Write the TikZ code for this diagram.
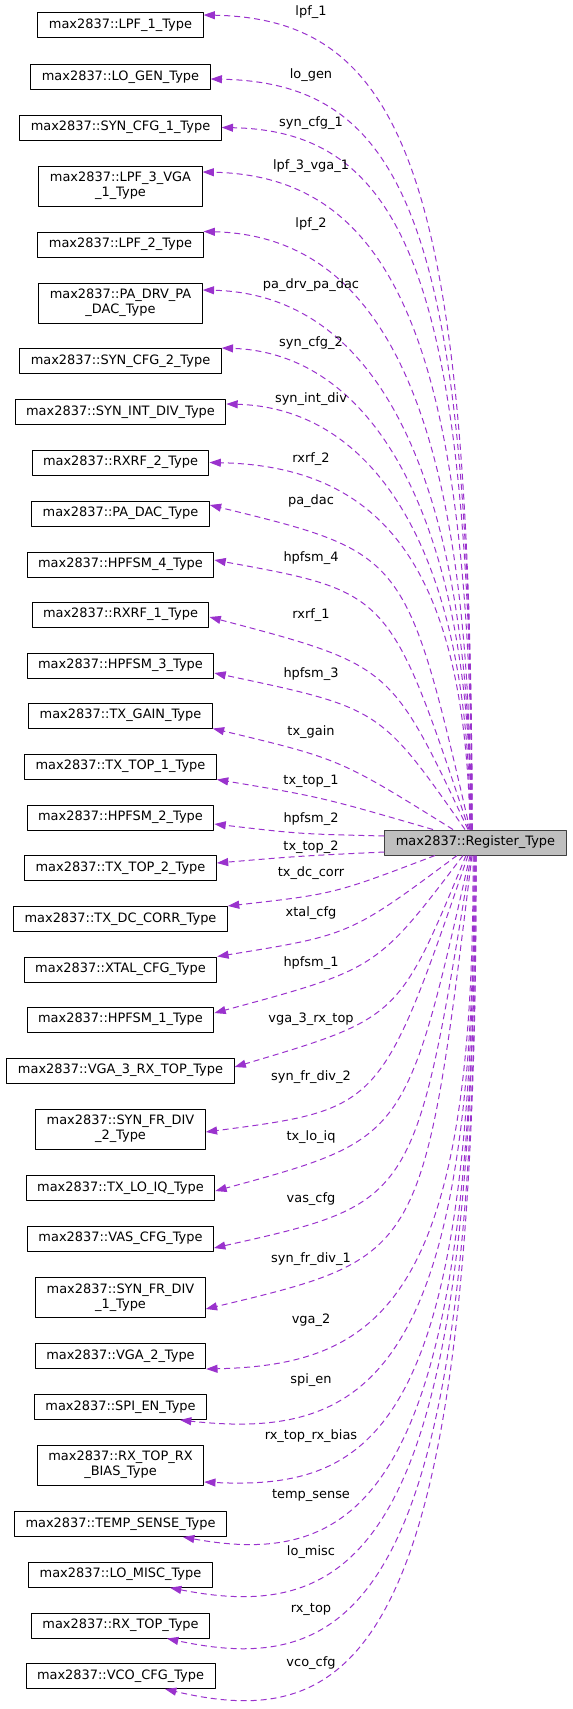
\documentclass[tikz,border=0pt]{standalone}
\usepackage{fontspec}
\setmainfont{DejaVu Sans}
\usetikzlibrary{arrows.meta}
\definecolor{deppurple}{HTML}{9A32CD}
\definecolor{regfill}{HTML}{BFBFBF}
\definecolor{regdraw}{HTML}{404040}

\begin{document}
\begin{tikzpicture}[x=0.75pt, y=-0.75pt, line join=round,
		font=\fontsize{9.7}{11.25}\selectfont,
		classbox/.style={draw=black, line width=0.75pt, inner xsep=8.25pt, inner ysep=0pt, minimum height=18.75pt, align=center},
		twoline/.style={classbox, minimum height=30pt},
		dep/.style={deppurple, line width=0.75pt, dash pattern=on 4.5pt off 3pt, -{Triangle[length=8.5pt,width=6pt]}},
		deplabel/.style={inner sep=0pt}]
			\useasboundingbox (0,0) rectangle (572,1709);
			% the register type on the right
			\node[classbox, fill=regfill, draw=regdraw] (reg) at (475.5,842.5) {max2837::Register\_Type};
			% member types, left column
			\node[classbox] (lpf1) at (120.5,25.5) {max2837::LPF\_1\_Type};
			\node[classbox] (logen) at (120.5,76.8) {max2837::LO\_GEN\_Type};
			\node[classbox] (syncfg1) at (120.5,127.5) {max2837::SYN\_CFG\_1\_Type};
			\node[twoline] (lpf3vga1) at (120.5,186) {max2837::LPF\_3\_VGA\\\_1\_Type};
			\node[classbox] (lpf2) at (120.5,244.5) {max2837::LPF\_2\_Type};
			\node[twoline] (padrv) at (120.5,303) {max2837::PA\_DRV\_PA\\\_DAC\_Type};
			\node[classbox] (syncfg2) at (120.5,361) {max2837::SYN\_CFG\_2\_Type};
			\node[classbox] (synintdiv) at (120.5,412) {max2837::SYN\_INT\_DIV\_Type};
			\node[classbox] (rxrf2) at (120.5,462.5) {max2837::RXRF\_2\_Type};
			\node[classbox] (padac) at (120.5,513.5) {max2837::PA\_DAC\_Type};
			\node[classbox] (hpfsm4) at (120.5,564.5) {max2837::HPFSM\_4\_Type};
			\node[classbox] (rxrf1) at (120.5,614.7) {max2837::RXRF\_1\_Type};
			\node[classbox] (hpfsm3) at (120.5,665.5) {max2837::HPFSM\_3\_Type};
			\node[classbox] (txgain) at (120.5,715.5) {max2837::TX\_GAIN\_Type};
			\node[classbox] (txtop1) at (120.5,766.5) {max2837::TX\_TOP\_1\_Type};
			\node[classbox] (hpfsm2) at (120.5,817.5) {max2837::HPFSM\_2\_Type};
			\node[classbox] (txtop2) at (120.5,868) {max2837::TX\_TOP\_2\_Type};
			\node[classbox] (txdccorr) at (120.5,919) {max2837::TX\_DC\_CORR\_Type};
			\node[classbox] (xtalcfg) at (120.5,969.5) {max2837::XTAL\_CFG\_Type};
			\node[classbox] (hpfsm1) at (120.5,1019.5) {max2837::HPFSM\_1\_Type};
			\node[classbox] (vga3) at (120.5,1070.5) {max2837::VGA\_3\_RX\_TOP\_Type};
			\node[twoline] (synfrdiv2) at (120.5,1129) {max2837::SYN\_FR\_DIV\\\_2\_Type};
			\node[classbox] (txloiq) at (120.5,1188) {max2837::TX\_LO\_IQ\_Type};
			\node[classbox] (vascfg) at (120.5,1238.5) {max2837::VAS\_CFG\_Type};
			\node[twoline] (synfrdiv1) at (120.5,1297.5) {max2837::SYN\_FR\_DIV\\\_1\_Type};
			\node[classbox] (vga2) at (120.5,1356) {max2837::VGA\_2\_Type};
			\node[classbox] (spien) at (120.5,1407) {max2837::SPI\_EN\_Type};
			\node[twoline] (rxtoprxbias) at (120.5,1465) {max2837::RX\_TOP\_RX\\\_BIAS\_Type};
			\node[classbox] (tempsense) at (120.5,1524) {max2837::TEMP\_SENSE\_Type};
			\node[classbox] (lomisc) at (120.5,1574.7) {max2837::LO\_MISC\_Type};
			\node[classbox] (rxtop) at (120.5,1625.5) {max2837::RX\_TOP\_Type};
			\node[classbox] (vcocfg) at (120.5,1676) {max2837::VCO\_CFG\_Type};
			% usage edges, upper half
			\draw[dep] (reg.north -| 472,0) .. controls (472,178) and (406,19) .. (lpf1.east |- 0,15);
			\draw[dep] (reg.north -| 472,0) .. controls (472,229) and (408,83) .. (logen.east |- 0,79);
			\draw[dep] (reg.north -| 472,0) .. controls (472,282) and (406,131) .. (syncfg1.east);
			\draw[dep] (reg.north -| 472,0) .. controls (472,343) and (393,176) .. (lpf3vga1.east |- 0,172);
			\draw[dep] (reg.north -| 471,0) .. controls (471,411) and (382,236) .. (lpf2.north east);
			\draw[dep] (reg.north -| 471,0) .. controls (471,463) and (371,294) .. (padrv.east |- 0,290);
			\draw[dep] (reg.north -| 471,0) .. controls (471,517) and (373,353) .. (syncfg2.north east);
			\draw[dep] (reg.north -| 470,0) .. controls (470,553) and (375,408) .. (synintdiv.east |- 0,404);
			\draw[dep] (reg.north -| 470,0) .. controls (465,560) and (377,466) .. (rxrf2.east);
			\draw[dep] (reg.north -| 470,0) .. controls (406,553) .. (padac.east |- 0,505);
			\draw[dep] (reg.north -| 469,0) .. controls (390,592) .. (hpfsm4.east |- 0,560);
			\draw[dep] (reg.north -| 468,0) .. controls (391,665) .. (rxrf1.east |- 0,617);
			\draw[dep] (reg.north -| 465,0) .. controls (380,708) .. (hpfsm3.east |- 0,673);
			\draw[dep] (reg.north -| 453,0) .. controls (340,759) .. (txgain.south east);
			\draw[dep] (reg.north -| 433,0) .. controls (321,797) .. (txtop1.south east);
			\draw[dep] (reg.west |- 0,836) .. controls (300,834) .. (hpfsm2.east |- 0,824);
			\draw[dep] (reg.west |- 0,852) .. controls (300,856) .. (txtop2.east |- 0,863);
			% usage edges, lower half
			\draw[dep] (reg.south -| 435,0) .. controls (334,894) .. (txdccorr.north east);
			\draw[dep] (reg.south -| 457,0) .. controls (350,935) .. (xtalcfg.north east);
			\draw[dep] (reg.south -| 463,0) .. controls (377,969) .. (hpfsm1.east |- 0,1013);
			\draw[dep] (reg.south -| 466,0) .. controls (399,1018) .. (vga3.east |- 0,1067);
			\draw[dep] (reg.south -| 468,0) .. controls (381,1109) .. (synfrdiv2.east |- 0,1132);
			\draw[dep] (reg.south -| 470,0) .. controls (406,1139) .. (txloiq.east |- 0,1191);
			\draw[dep] (reg.south -| 471,0) .. controls (415,1203) .. (vascfg.east |- 0,1248);
			\draw[dep] (reg.south -| 472,0) .. controls (423,1257) .. (synfrdiv1.east |- 0,1309);
			\draw[dep] (reg.south -| 473,0) .. controls (475,1300) and (380,1365) .. (vga2.south east);
			\draw[dep] (reg.south -| 474,0) .. controls (476,1380) and (365,1440) .. (180,0 |- spien.south);
			\draw[dep] (reg.south -| 474,0) .. controls (476,1430) and (375,1490) .. (rxtoprxbias.east |- 0,1482);
			\draw[dep] (reg.south -| 475,0) .. controls (477,1490) and (365,1570) .. (183,0 |- tempsense.south);
			\draw[dep] (reg.south -| 475,0) .. controls (477,1545) and (360,1625) .. (170,0 |- lomisc.south);
			\draw[dep] (reg.south -| 476,0) .. controls (478,1597) and (360,1680) .. (167,0 |- rxtop.south);
			\draw[dep] (reg.south -| 476,0) .. controls (478,1650) and (360,1735) .. (165,0 |- vcocfg.south);
			% member names
			\node[deplabel] (llpf1) at (311,12) {lpf\_1};
			\node[deplabel] (llogen) at (311,75) {lo\_gen};
			\node[deplabel] (lsyncfg1) at (311,123) {syn\_cfg\_1};
			\node[deplabel] (llpf3vga1) at (311,166) {lpf\_3\_vga\_1};
			\node[deplabel] (llpf2) at (311,224) {lpf\_2};
			\node[deplabel] (lpadrv) at (311,285) {pa\_drv\_pa\_dac};
			\node[deplabel] (lsyncfg2) at (311,343) {syn\_cfg\_2};
			\node[deplabel] (lsynintdiv) at (311,399) {syn\_int\_div};
			\node[deplabel] (lrxrf2) at (311,459) {rxrf\_2};
			\node[deplabel] (lpadac) at (311,501) {pa\_dac};
			\node[deplabel] (lhpfsm4) at (311,558) {hpfsm\_4};
			\node[deplabel] (lrxrf1) at (311,615) {rxrf\_1};
			\node[deplabel] (lhpfsm3) at (311,674) {hpfsm\_3};
			\node[deplabel] (ltxgain) at (311,732) {tx\_gain};
			\node[deplabel] (ltxtop1) at (311,781) {tx\_top\_1};
			\node[deplabel] (lhpfsm2) at (311,819) {hpfsm\_2};
			\node[deplabel] (ltxtop2) at (311,847) {tx\_top\_2};
			\node[deplabel] (ltxdccorr) at (311,873) {tx\_dc\_corr};
			\node[deplabel] (lxtalcfg) at (311,913) {xtal\_cfg};
			\node[deplabel] (lhpfsm1) at (311,963) {hpfsm\_1};
			\node[deplabel] (lvga3) at (311,1019) {vga\_3\_rx\_top};
			\node[deplabel] (lsynfrdiv2) at (311,1077) {syn\_fr\_div\_2};
			\node[deplabel] (ltxloiq) at (311,1137) {tx\_lo\_iq};
			\node[deplabel] (lvascfg) at (311,1199) {vas\_cfg};
			\node[deplabel] (lsynfrdiv1) at (311,1259) {syn\_fr\_div\_1};
			\node[deplabel] (lvga2) at (311,1320) {vga\_2};
			\node[deplabel] (lspien) at (311,1380) {spi\_en};
			\node[deplabel] (lrxtoprxbias) at (311,1436) {rx\_top\_rx\_bias};
			\node[deplabel] (ltempsense) at (311,1495) {temp\_sense};
			\node[deplabel] (llomisc) at (311,1552) {lo\_misc};
			\node[deplabel] (lrxtop) at (311,1609) {rx\_top};
			\node[deplabel] (lvcocfg) at (311,1663) {vco\_cfg};
	\end{tikzpicture}
\end{document}
